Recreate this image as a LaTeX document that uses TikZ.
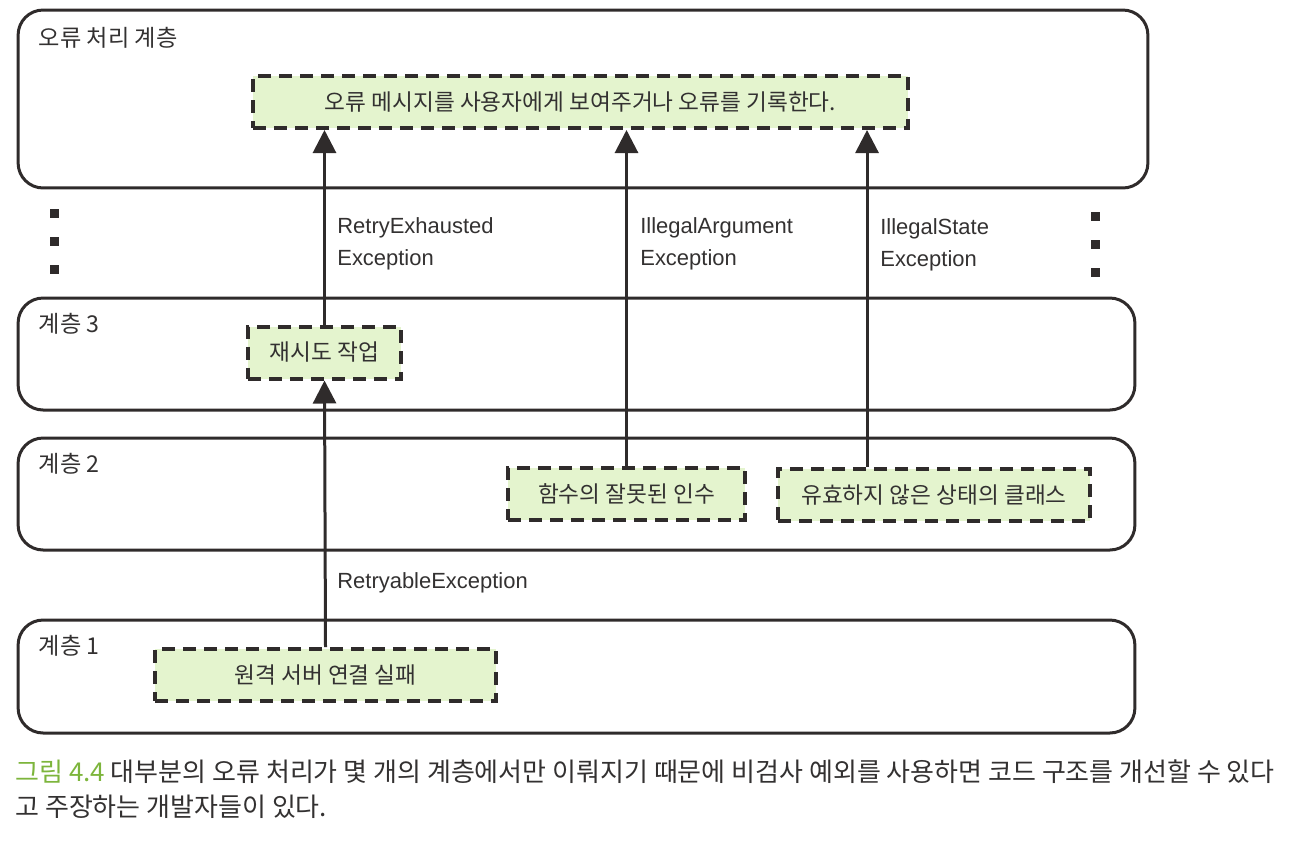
\documentclass[tikz,border=0pt]{standalone}
\usepackage{fontspec}
\setmainfont{Noto Sans CJK KR}
\newfontfamily\latinfont{Liberation Sans}
\usetikzlibrary{positioning, arrows.meta}
\definecolor{ink}{HTML}{2F2B2B}
\definecolor{taskfill}{HTML}{E4F4CE}
\definecolor{textgray}{HTML}{333131}
\definecolor{figgreen}{HTML}{7DB53C}

\begin{document}
\begin{tikzpicture}[
  x=0.02cm, y=-0.02cm,
  every node/.style={text=textgray},
  >={Triangle[length=4.6mm, width=4.6mm]},
  layer/.style={
    draw=ink, line width=0.06cm, rounded corners=0.5cm,
    minimum width=22.34cm, minimum height=2.24cm
  },
  layerlabel/.style={font=\fontsize{13.2}{16}\selectfont, inner sep=0pt},
  task/.style={
    draw=ink, fill=taskfill, line width=0.08cm,
    dash pattern=on 0.26cm off 0.16cm,
    minimum height=1.04cm, inner sep=0pt,
    font=\fontsize{12.9}{15}\selectfont
  },
  exc/.style={
    font=\latinfont\fontsize{12.5}{18.2}\selectfont,
    align=left, inner sep=0pt, anchor=west
  },
  arrow/.style={->, draw=ink, line width=0.06cm}
]
\useasboundingbox (0,0) rectangle (1310,840);

% layers
\node[layer, minimum width=22.6cm, minimum height=3.56cm] (handling) at (583,99) {};
\node[layer] (layer3) at (576.5,354) {};
\node[layer] (layer2) at (576.5,494) {};
\node[layer, minimum height=2.26cm] (layer1) at (576.5,676.5) {};

\node[layerlabel, below right=0.36cm and 0.44cm of handling.north west] (handlinglabel) {오류 처리 계층};
\node[layerlabel, below right=0.32cm and 0.44cm of layer3.north west] (label3) {계층 3};
\node[layerlabel, below right=0.32cm and 0.44cm of layer2.north west] (label2) {계층 2};
\node[layerlabel, below right=0.32cm and 0.44cm of layer1.north west] (label1) {계층 1};

% omitted layers
\foreach \y in {214,242,270} \fill[ink] (50,\y-5) rectangle (59,\y+4);
\foreach \y in {217,245,273} \fill[ink] (1091,\y-5) rectangle (1100,\y+4);

% tasks
\node[task, minimum width=13.1cm] (msg) at (580.5,102) {오류 메시지를 사용자에게 보여주거나 오류를 기록한다.};
\node[task, minimum width=3.06cm] (retry) at (324.5,352.5) {재시도 작업};
\node[task, minimum width=4.74cm] (arg) at (626.5,494) {함수의 잘못된 인수};
\node[task, minimum width=6.24cm] (state) at (934,495) {유효하지 않은 상태의 클래스};
\node[task, minimum width=6.82cm] (fail) at (325.5,675) {원격 서버 연결 실패};

\coordinate (statetop) at ([xshift=-1.34cm]state.north);

% exceptions
\draw[arrow] (fail.north) -- (retry.south);
\draw[arrow] (retry.north) -- (retry.north |- msg.south);
\draw[arrow] (arg.north) -- (arg.north |- msg.south);
\draw[arrow] (statetop) -- (statetop |- msg.south);

\node[exc] (retryable) at (337,583) {RetryableException};
\node[exc] (exhausted) at (337,244) {RetryExhausted\\Exception};
\node[exc] (argexc) at (640,244) {IllegalArgument\\Exception};
\node[exc] (stateexc) at (880,245) {IllegalState\\Exception};

% caption
\node[anchor=north west, inner sep=0pt, align=left,
  font=\fontsize{14.8}{20.4}\selectfont] (caption) at (15,759)
  {{\color{figgreen}그림 4.4}\ 대부분의 오류 처리가 몇 개의 계층에서만 이뤄지기 때문에 비검사 예외를 사용하면 코드 구조를 개선할 수 있다\\고 주장하는 개발자들이 있다.};
\end{tikzpicture}
\end{document}
